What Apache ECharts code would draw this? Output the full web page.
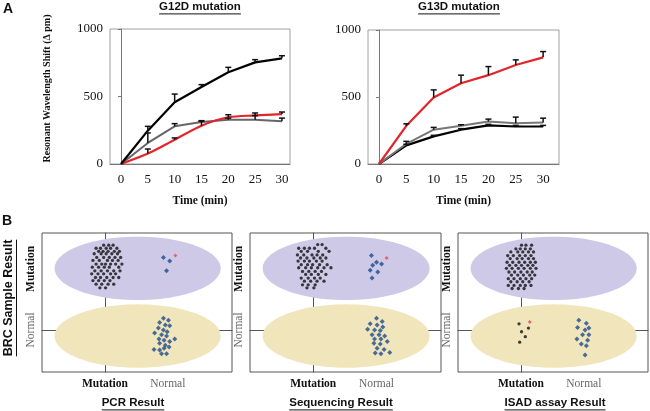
<!DOCTYPE html>
<html><head><meta charset="utf-8">
<script src="https://cdn.jsdelivr.net/npm/echarts@6/dist/echarts.min.js"></script>
<style>html,body{margin:0;padding:0;background:#fff}#c{width:650px;height:411px}</style>
</head><body><div id="c"></div>
<script>
// ---------- Panel A data ----------
const times = [0, 5, 10, 15, 20, 25, 30];
const xTicksA = [0, 5, 10, 15, 20, 25, 30];
const yTicksA = [0, 500, 1000];
const g12dBlack = [0, 247, 457, 570, 679, 753, 783];
const g12dBlackErr = [0, 32, 61, 18, 37, 20, 19];
const g12dGray = [0, 156, 279, 311, 328, 328, 316];
const g12dGrayErr = [0, 74, 20, 10, 12, 30, 24];
const g12dRed = [0, 77, 180, 284, 346, 360, 370];
const g12dRedErr = [0, 34, 13, 32, 19, 18, 15];
const g13dRed = [0, 285, 496, 603, 663, 739, 796];
const g13dRedErr = [0, 15, 57, 60, 64, 38, 43];
const g13dGray = [0, 151, 256, 285, 318, 305, 310];
const g13dGrayErr = [0, 18, 17, 8, 17, 45, 32];
const g13dBlack = [0, 139, 206, 256, 288, 280, 280];
const g13dBlackErr = [0, 8, 8, 8, 8, 8, 8];

// ---------- Panel B data (x: Mutation=0, Normal=10; y: Normal=0, Mutation=10) ----------
const resultCategories = {0: 'Mutation', 10: 'Normal'};
const sampleCategories = {10: 'Mutation', 0: 'Normal'};
const pcrBlack = [[-0.2,13.9],[0.6,13.9],[1.3,13.9],[-1.4,13.4],[-0.7,13.4],[0.2,13.4],[0.9,13.4],[1.9,13.4],[-1.0,12.9],[-0.3,12.9],[0.5,12.9],[1.5,12.9],[2.3,12.9],[-1.7,12.5],[-0.6,12.5],[0.2,12.5],[1.1,12.5],[2.0,12.5],[-1.3,11.9],[-0.2,11.9],[0.7,11.9],[1.6,11.9],[2.5,11.9],[-1.9,11.4],[-0.9,11.4],[0.4,11.4],[1.2,11.4],[2.1,11.4],[-1.4,10.8],[-0.5,10.8],[0.1,10.8],[0.9,10.8],[1.7,10.8],[2.7,10.8],[-2.0,10.3],[-1.0,10.3],[-0.1,10.3],[0.7,10.3],[2.2,10.3],[-1.6,9.7],[-0.6,9.7],[0.4,9.7],[1.4,9.7],[2.4,9.7],[-2.1,9.2],[-1.1,9.2],[-0.2,9.2],[0.9,9.2],[1.7,9.2],[-1.5,8.6],[-0.7,8.6],[0.3,8.6],[1.3,8.6],[2.2,8.6],[-1.9,8.1],[-1.0,8.1],[-0.1,8.1],[0.8,8.1],[-1.4,7.5],[-0.5,7.5],[0.5,7.5],[1.4,7.5],[-0.8,6.9],[0.1,6.9]];
const pcrBlueTop = [[9.3,11.9],[10.3,11.3],[9.8,9.7]];
const pcrRed = [[11.2,12.2]];
const pcrBlueBottom = [[9.3,1.9],[10.1,1.6],[8.7,1.2],[9.6,0.8],[10.3,0.7],[8.5,0.3],[9.3,0.0],[9.9,-0.3],[7.9,-0.5],[9.0,-0.8],[9.8,-1.0],[8.6,-1.5],[9.4,-1.7],[10.3,-1.9],[11.1,-1.5],[8.7,-2.2],[9.6,-2.5],[7.8,-3.2],[8.7,-3.3],[9.4,-3.0],[10.2,-2.8],[9.0,-3.9],[9.8,-3.9]];
const seqBlack = [[0.7,14.0],[1.4,14.0],[-2.3,13.4],[-1.4,13.4],[-0.6,13.4],[0.2,13.4],[2.0,13.4],[-1.9,12.9],[-0.9,12.9],[0.8,12.9],[2.5,12.9],[-2.5,12.3],[-1.5,12.3],[-0.2,12.3],[0.6,12.3],[1.5,12.3],[-2.0,11.8],[-1.0,11.8],[0.1,11.8],[1.1,11.8],[2.0,11.8],[-2.4,11.3],[-1.4,11.3],[-0.6,11.3],[0.5,11.3],[1.4,11.3],[-1.9,10.7],[-0.9,10.7],[-0.1,10.7],[1.0,10.7],[2.2,10.7],[-2.3,10.2],[-1.2,10.2],[-0.3,10.2],[0.7,10.2],[1.7,10.2],[2.8,10.2],[-1.7,9.6],[-0.7,9.6],[0.3,9.6],[1.3,9.6],[-1.2,9.1],[-0.3,9.1],[0.8,9.1],[2.0,9.1],[-1.9,8.5],[-0.8,8.5],[0.2,8.5],[1.1,8.5],[-1.4,8.0],[-0.4,8.0],[0.6,8.0],[1.7,8.0],[-1.7,7.4],[-0.8,7.4],[0.3,7.4],[-1.0,6.9],[0.1,6.9]];
const seqBlueTop = [[9.2,12.2],[10.0,11.1],[9.4,10.6],[10.8,10.8],[9.0,9.8],[10.2,9.5],[9.3,8.5]];
const seqRed = [[11.6,11.8]];
const seqBlueBottom = [[10.0,1.9],[10.9,1.4],[9.0,1.0],[10.1,0.8],[11.0,0.5],[8.6,0.1],[9.7,0.0],[10.6,-0.1],[9.3,-0.8],[10.4,-0.8],[11.3,-1.0],[9.7,-1.5],[10.7,-1.5],[11.7,-1.9],[9.6,-2.2],[10.6,-2.3],[10.1,-3.0],[11.2,-3.2],[9.8,-3.8],[10.7,-3.9],[12.1,-3.7]];
const isadBlackTop = [[0.1,13.9],[0.8,13.9],[1.7,13.9],[-0.8,13.3],[-0.1,13.3],[0.7,13.3],[1.5,13.3],[-1.6,12.8],[-0.5,12.8],[0.3,12.8],[1.2,12.8],[2.0,12.8],[-2.1,12.2],[-1.2,12.2],[-0.2,12.2],[0.7,12.2],[1.6,12.2],[-1.7,11.7],[-0.6,11.7],[0.2,11.7],[1.2,11.7],[2.0,11.7],[-2.2,11.1],[-1.3,11.1],[-0.3,11.1],[0.6,11.1],[1.5,11.1],[2.3,11.1],[-1.8,10.6],[-0.8,10.6],[0.1,10.6],[1.1,10.6],[1.9,10.6],[-2.3,10.1],[-1.4,10.1],[-0.4,10.1],[0.5,10.1],[1.5,10.1],[2.4,10.1],[-1.9,9.5],[-1.0,9.5],[0.0,9.5],[1.0,9.5],[1.8,9.5],[-1.5,9.0],[-0.5,9.0],[0.4,9.0],[1.4,9.0],[2.2,9.0],[-2.0,8.4],[-1.1,8.4],[-0.1,8.4],[0.8,8.4],[1.7,8.4],[-1.6,7.9],[-0.6,7.9],[0.3,7.9],[1.3,7.9],[-2.0,7.3],[-1.1,7.3],[-0.1,7.3],[0.7,7.3],[1.6,7.3],[-1.4,6.8],[-0.4,6.8],[0.5,6.8]];
const isadBlackBottom = [[-0.3,1.0],[1.2,0.3],[0.1,-0.3],[0.7,-1.1],[-0.2,-2.0]];
const isadRed = [[1.4,1.3]];
const isadBlueBottom = [[9.2,1.6],[10.4,1.1],[9.0,0.4],[10.2,0.0],[10.8,0.3],[9.8,-0.8],[10.8,-0.8],[8.9,-1.5],[10.6,-1.7],[9.6,-2.3],[10.4,-2.6],[10.2,-4.1]];

const SERIF = '"Liberation Serif","Times New Roman",serif';
const SANS = '"Liberation Sans",Arial,sans-serif';
const RED = '#e4232a', BLUE = '#1d4b8f';

function errItem(params, api) {
  const x = api.value(0), y = api.value(1), e = api.value(2);
  if (!e) return null;
  const p0 = api.coord([x, y]), p1 = api.coord([x, y + e]);
  const st = {stroke: '#111', lineWidth: 1.5};
  return {type: 'group', children: [
    {type: 'line', shape: {x1: p0[0], y1: p0[1], x2: p1[0], y2: p1[1]}, style: st},
    {type: 'line', shape: {x1: p1[0] - 3, y1: p1[1], x2: p1[0] + 3, y2: p1[1]}, style: st}
  ]};
}
function ellipseItem(params, api) {
  const c = api.coord([api.value(0), api.value(1)]);
  const s = api.size([api.value(2), api.value(3)]);
  const pts = [];
  for (let i = 0; i < 96; i++) {
    const t = i / 96 * Math.PI * 2;
    pts.push([c[0] + s[0] * Math.cos(t), c[1] + s[1] * Math.sin(t)]);
  }
  return {type: 'polygon', shape: {points: pts}, style: {fill: api.visual('color')}};
}
const pair = (vals) => times.map((t, i) => [t, vals[i]]);
const triple = (vals, errs) => times.map((t, i) => [t, vals[i], errs[i]]);

const grids = [
  {left: 110, top: 29, width: 180, height: 135},
  {left: 368, top: 30, width: 191, height: 134},
  {left: 42, top: 233, width: 190, height: 139},
  {left: 250, top: 233, width: 191, height: 139},
  {left: 458, top: 233, width: 190, height: 139}
];
grids.forEach((g, i) => { g.show = true; g.borderColor = i < 2 ? '#a0a0a0' : '#555'; g.borderWidth = 1; g.backgroundColor = 'transparent'; });

const xAxes = [], yAxes = [];
[[-2.05, 31.5], [-2.0, 32.9]].forEach((r, i) => {
  xAxes.push({type: 'value', gridIndex: i, min: r[0], max: r[1], name: 'Time (min)', nameLocation: 'middle', nameGap: 31,
    nameTextStyle: {fontFamily: SERIF, fontWeight: 'bold', fontSize: 11.5, color: '#111'},
    axisLine: {lineStyle: {color: '#777'}}, axisTick: {show: false}, splitLine: {show: false},
    axisLabel: {customValues: xTicksA, fontFamily: SERIF, fontSize: 13, color: '#111', margin: 9, formatter: v => String(v)}});
  yAxes.push({type: 'value', gridIndex: i, min: 0, max: 1000,
    name: i === 0 ? 'Resonant Wavelength Shift (\u0394 pm)' : '', nameLocation: 'middle', nameGap: 58,
    nameTextStyle: {fontFamily: SERIF, fontWeight: 'bold', fontSize: 10, color: '#111', padding: [0, 0, 0, 16]},
    axisLine: {show: true, lineStyle: {color: '#777'}}, axisTick: {show: true, length: 3, customValues: yTicksA, lineStyle: {color: '#777'}},
    splitLine: {show: false},
    axisLabel: {customValues: yTicksA, fontFamily: SERIF, fontSize: 13, color: '#111', margin: 7, formatter: v => String(v)}});
});
const labelRich = {
  m: {fontFamily: SERIF, fontWeight: 'bold', fontSize: 11.5, color: '#111'},
  n: {fontFamily: SERIF, fontSize: 11.5, color: '#666'}
};
for (let k = 2; k < 5; k++) {
  xAxes.push({type: 'value', gridIndex: k, min: -10, max: 20.2,
    axisLine: {lineStyle: {color: '#555'}}, axisTick: {show: true, length: 3, customValues: [0, 10], lineStyle: {color: '#555'}},
    splitLine: {show: false},
    axisLabel: {customValues: [0, 10], margin: 6, rich: labelRich,
      formatter: v => (resultCategories[v] === 'Mutation' ? '{m|Mutation}' : '{n|Normal}')}});
  yAxes.push({type: 'value', gridIndex: k, min: -6.9, max: 15.9,
    axisLine: {show: true, lineStyle: {color: '#555'}}, axisTick: {show: true, length: 3, customValues: [0, 10], lineStyle: {color: '#555'}},
    splitLine: {show: false},
    axisLabel: {customValues: [0, 10], rotate: 90, margin: 5, rich: labelRich,
      formatter: v => (sampleCategories[v] === 'Mutation' ? '{m|Mutation}' : '{n|Normal}')}});
}

const series = [];
function lineS(idx, vals, color, width, smooth, z) {
  series.push({type: 'line', xAxisIndex: idx, yAxisIndex: idx, data: pair(vals), symbol: 'none', smooth: smooth,
    lineStyle: {color: color, width: width}, itemStyle: {color: color}, z: z, silent: true, animation: false});
}
function errS(idx, vals, errs) {
  series.push({type: 'custom', xAxisIndex: idx, yAxisIndex: idx, data: triple(vals, errs), renderItem: errItem, z: 5, silent: true, animation: false});
}
lineS(0, g12dGray, '#666', 2, false, 2); errS(0, g12dGray, g12dGrayErr);
lineS(0, g12dRed, RED, 2.2, 0.3, 3); errS(0, g12dRed, g12dRedErr);
lineS(0, g12dBlack, '#000', 2.2, false, 4); errS(0, g12dBlack, g12dBlackErr);
lineS(1, g13dBlack, '#000', 2.2, false, 2); errS(1, g13dBlack, g13dBlackErr);
lineS(1, g13dGray, '#777', 2, false, 3); errS(1, g13dGray, g13dGrayErr);
lineS(1, g13dRed, RED, 2.2, false, 4); errS(1, g13dRed, g13dRedErr);

function panelB(k, groups) {
  series.push({type: 'custom', xAxisIndex: k, yAxisIndex: k, renderItem: ellipseItem, silent: true, animation: false, z: 1,
    data: [{value: [5.2, 10.1, 13.2, 5.2], itemStyle: {color: '#cdc9e6'}}, {value: [5.2, -1.0, 13.2, 5.2], itemStyle: {color: '#f0e5bb'}}]});
  groups.forEach(g => series.push({type: 'scatter', xAxisIndex: k, yAxisIndex: k, data: g[0], symbol: g[1], symbolSize: g[2],
    itemStyle: {color: g[3]}, z: 3, silent: true, animation: false}));
}
panelB(2, [[pcrBlack, 'circle', 3.3, '#111'], [pcrBlueTop, 'diamond', 5, BLUE], [pcrBlueBottom, 'diamond', 5, BLUE], [pcrRed, 'diamond', 4, '#e8485c']]);
panelB(3, [[seqBlack, 'circle', 3.3, '#111'], [seqBlueTop, 'diamond', 5, BLUE], [seqBlueBottom, 'diamond', 5, BLUE], [seqRed, 'diamond', 4, '#e8485c']]);
panelB(4, [[isadBlackTop, 'circle', 3.3, '#111'], [isadBlackBottom, 'circle', 3.3, '#111'], [isadBlueBottom, 'diamond', 5, BLUE], [isadRed, 'diamond', 4, '#e8485c']]);

// text widths for underlines
const cv = document.createElement('canvas').getContext('2d');
function tw(text, font) { cv.font = font; return cv.measureText(text).width; }
const graphics = [];
function uText(text, cx, cy, size, weight) {
  const font = weight + ' ' + size + 'px ' + SANS;
  const w = tw(text, font);
  graphics.push({type: 'text', x: cx, y: cy, style: {text: text, font: font, fill: '#111', align: 'center', verticalAlign: 'middle'}});
  graphics.push({type: 'line', shape: {x1: cx - w / 2, y1: cy + size * 0.6, x2: cx + w / 2, y2: cy + size * 0.6}, style: {stroke: '#111', lineWidth: 1}});
}
graphics.push({type: 'text', x: 3, y: 2, style: {text: 'A', font: 'bold 14px ' + SANS, fill: '#111'}});
graphics.push({type: 'text', x: 2, y: 214, style: {text: 'B', font: 'bold 14px ' + SANS, fill: '#111'}});
uText('G12D mutation', 200, 7, 11.5, 'bold');
uText('G13D mutation', 459, 7, 11.5, 'bold');
uText('PCR Result', 133, 403, 11.5, '600');
uText('Sequencing Result', 341, 403, 11.5, '600');
uText('ISAD assay Result', 555, 403, 11.5, '600');
(function () {
  const font = 'bold 12.5px ' + SANS, text = 'BRC Sample Result';
  const w = tw(text, font);
  graphics.push({type: 'group', x: 9, y: 298, rotation: Math.PI / 2, children: [
    {type: 'text', x: 0, y: 0, style: {text: text, font: font, fill: '#111', align: 'center', verticalAlign: 'middle'}},
    {type: 'line', shape: {x1: -w / 2, y1: 7.5, x2: w / 2, y2: 7.5}, style: {stroke: '#111', lineWidth: 1}}
  ]});
})();

const chart = echarts.init(document.getElementById('c'), null, {renderer: 'canvas'});
chart.setOption({animation: false, backgroundColor: '#fff', grid: grids, xAxis: xAxes, yAxis: yAxes, series: series, graphic: graphics});
</script></body></html>
